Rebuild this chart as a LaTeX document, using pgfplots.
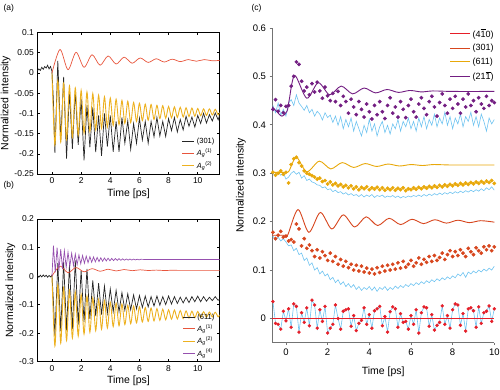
\documentclass[border=0pt]{standalone}
\usepackage{fontspec}
\setmainfont{Liberation Sans}
\usepackage{pgfplots}
\usepackage{pgfplotstable}
\pgfplotsset{compat=1.18}
\definecolor{mred}{RGB}{232,85,60}
\definecolor{myel}{RGB}{237,177,32}
\definecolor{mpur}{RGB}{150,80,175}
\definecolor{cred}{RGB}{230,30,40}
\definecolor{cora}{RGB}{215,70,30}
\definecolor{cyel}{RGB}{232,168,10}
\definecolor{cpur}{RGB}{115,30,130}
\definecolor{cblu}{RGB}{110,195,240}

\pgfplotstableread{
t r o ob y yb p pb
-0.625 0.035 0.178 0.170 0.302 0.300 0.432 0.440
-0.5 -0.010 0.165 0.162 0.296 0.294 0.452 0.425
-0.375 -0.012 0.172 0.168 0.300 0.302 0.428 0.445
-0.25 -0.022 0.180 0.160 0.305 0.296 0.440 0.420
-0.125 0.015 0.168 0.165 0.298 0.300 0.425 0.432
0 -0.005 0.170 0.158 0.302 0.288 0.438 0.418
0.125 0.020 0.160 0.150 0.280 0.292 0.440 0.445
0.25 -0.018 0.163 0.152 0.318 0.300 0.480 0.452
0.375 0.030 0.158 0.140 0.330 0.304 0.500 0.440
0.5 0.025 0.195 0.145 0.333 0.298 0.530 0.462
0.625 -0.028 0.185 0.132 0.322 0.302 0.525 0.445
0.75 0.012 0.150 0.135 0.315 0.290 0.490 0.438
0.875 -0.008 0.165 0.120 0.305 0.295 0.470 0.430
1.0 0.022 0.145 0.125 0.300 0.285 0.478 0.440
1.125 -0.015 0.152 0.110 0.298 0.288 0.462 0.425
1.25 0.038 0.140 0.115 0.295 0.282 0.485 0.432
1.375 0.028 0.128 0.100 0.292 0.280 0.468 0.418
1.5 -0.020 0.142 0.105 0.288 0.276 0.488 0.428
1.625 0.018 0.125 0.092 0.290 0.275 0.470 0.422
1.75 -0.006 0.138 0.098 0.283 0.270 0.455 0.410
1.875 0.025 0.130 0.088 0.285 0.272 0.478 0.425
2.0 -0.030 0.120 0.092 0.278 0.266 0.460 0.415
2.125 -0.020 0.135 0.080 0.282 0.268 0.450 0.420
2.25 -0.012 0.118 0.085 0.276 0.262 0.465 0.405
2.375 0.028 0.128 0.074 0.279 0.265 0.448 0.418
2.5 0.000 0.112 0.080 0.274 0.260 0.469 0.399
2.625 -0.022 0.122 0.070 0.277 0.262 0.440 0.417
2.75 0.015 0.108 0.076 0.272 0.257 0.459 0.392
2.875 0.018 0.118 0.066 0.275 0.260 0.448 0.411
3.0 0.020 0.105 0.072 0.270 0.255 0.424 0.396
3.125 -0.016 0.112 0.064 0.274 0.258 0.453 0.414
3.25 0.006 0.100 0.070 0.268 0.254 0.437 0.387
3.375 -0.025 0.110 0.060 0.272 0.256 0.421 0.407
3.5 -0.010 0.098 0.066 0.266 0.252 0.448 0.392
3.625 -0.004 0.108 0.058 0.271 0.256 0.432 0.377
3.75 0.022 0.096 0.064 0.268 0.251 0.416 0.399
3.875 -0.012 0.104 0.060 0.272 0.255 0.443 0.384
4.0 0.008 0.094 0.066 0.266 0.252 0.427 0.411
4.125 -0.020 0.102 0.058 0.270 0.256 0.412 0.387
4.25 0.016 0.092 0.065 0.267 0.250 0.440 0.402
4.375 0.020 0.105 0.056 0.271 0.254 0.421 0.377
4.5 0.025 0.095 0.064 0.266 0.252 0.448 0.396
4.625 -0.015 0.108 0.060 0.270 0.255 0.427 0.407
4.75 0.004 0.098 0.066 0.265 0.250 0.413 0.384
4.875 -0.028 0.110 0.058 0.269 0.253 0.440 0.399
5.0 0.014 0.100 0.064 0.266 0.251 0.456 0.381
5.125 0.024 0.112 0.060 0.270 0.254 0.424 0.402
5.25 0.020 0.102 0.067 0.265 0.250 0.437 0.392
5.375 -0.018 0.115 0.062 0.269 0.253 0.416 0.411
5.5 0.010 0.104 0.068 0.266 0.249 0.448 0.387
5.625 -0.008 0.118 0.064 0.270 0.252 0.432 0.407
5.75 -0.006 0.106 0.070 0.264 0.250 0.415 0.396
5.875 -0.022 0.112 0.066 0.268 0.253 0.440 0.414
6.0 0.006 0.120 0.072 0.266 0.251 0.453 0.392
6.125 -0.012 0.108 0.068 0.270 0.254 0.427 0.407
6.25 0.018 0.115 0.074 0.267 0.252 0.416 0.387
6.375 -0.030 0.125 0.070 0.271 0.255 0.443 0.414
6.5 0.012 0.112 0.076 0.268 0.252 0.456 0.396
6.625 0.024 0.122 0.072 0.272 0.256 0.434 0.417
6.75 0.022 0.116 0.078 0.269 0.253 0.421 0.392
6.875 -0.016 0.128 0.074 0.273 0.257 0.448 0.411
7.0 0.008 0.118 0.080 0.270 0.254 0.459 0.399
7.125 -0.024 0.130 0.076 0.274 0.258 0.437 0.422
7.25 -0.014 0.120 0.082 0.271 0.255 0.418 0.396
7.375 -0.008 0.126 0.078 0.275 0.259 0.446 0.414
7.5 0.026 0.135 0.084 0.272 0.256 0.464 0.402
7.625 -0.012 0.122 0.080 0.276 0.260 0.440 0.426
7.75 0.006 0.132 0.086 0.273 0.257 0.424 0.399
7.875 -0.020 0.140 0.082 0.277 0.261 0.453 0.417
8.0 0.018 0.128 0.088 0.274 0.258 0.434 0.392
8.125 0.030 0.138 0.084 0.278 0.262 0.459 0.414
8.25 0.028 0.130 0.092 0.275 0.259 0.443 0.402
8.375 -0.014 0.142 0.088 0.279 0.263 0.424 0.422
8.5 0.010 0.135 0.095 0.276 0.260 0.453 0.396
8.625 -0.026 0.128 0.085 0.280 0.264 0.437 0.417
8.75 0.020 0.145 0.096 0.277 0.261 0.464 0.407
8.875 0.022 0.138 0.092 0.281 0.265 0.440 0.426
9.0 0.016 0.132 0.098 0.278 0.262 0.450 0.399
9.125 -0.018 0.146 0.094 0.282 0.266 0.427 0.417
9.25 0.024 0.140 0.100 0.279 0.263 0.456 0.396
9.375 -0.010 0.135 0.096 0.283 0.268 0.443 0.422
9.5 0.012 0.148 0.102 0.280 0.264 0.434 0.407
9.625 0.015 0.142 0.098 0.284 0.270 0.459 0.387
9.75 0.026 0.150 0.104 0.281 0.266 0.440 0.414
9.875 -0.006 0.140 0.100 0.285 0.272 0.450 0.402
10.0 0.020 0.148 0.108 0.279 0.265 0.446 0.411
}\dataC

\pgfplotsset{
 mat/.style={scale only axis, anchor=south west, xmin=-1, xmax=11.5,
  xtick={0,2,4,6,8,10}, xticklabels={0,2,4,6,8,10},
  tick align=inside, major tick length=2.5pt,
  tick style={black, line width=0.5pt}, axis line style={line width=0.5pt},
  ticklabel style={font=\fontsize{8.5}{9.5}\selectfont},
  label style={font=\fontsize{10.5}{12}\selectfont},
  xlabel={Time [ps]}, ylabel={Normalized intensity},
  xlabel style={yshift=2pt}, ylabel style={yshift=-3pt},
  legend style={draw=none, fill=none, font=\fontsize{7.5}{8.5}\selectfont,
   at={(1,0)}, anchor=south east, row sep=0pt},
  legend cell align=left,
  legend image code/.code={\draw[#1] (0pt,0pt) -- (12pt,0pt);}}
}

\begin{document}
\begin{tikzpicture}
\path[use as bounding box] (0,0) rectangle (500pt,389pt);

% ---------------- (a)
\begin{axis}[mat, at={(37.4pt,215pt)}, width=182.2pt, height=141.5pt,
  ymin=-0.25, ymax=0.1, ytick={-0.25,-0.2,-0.15,-0.1,-0.05,0,0.05,0.1},
  yticklabels={-0.25,-0.2,-0.15,-0.1,-0.05,0,0.05,0.1}]
\addplot[black!85, line width=0.7pt] coordinates {
(-1,0.005)(-0.9,0.010)(-0.8,0.006)(-0.7,0.014)(-0.6,0.009)(-0.5,0.016)(-0.4,0.012)(-0.3,0.019)(-0.2,0.010)(-0.1,0.016)(0,0.004)(0.1,-0.07)
(0.2,-0.198)(0.4,0.030)(0.6,-0.165)(0.8,-0.010)(1.0,-0.212)(1.2,-0.045)(1.4,-0.188)(1.6,-0.045)(1.8,-0.178)(2.0,-0.065)
(2.2,-0.216)(2.4,-0.080)(2.6,-0.184)(2.8,-0.085)(3.0,-0.196)(3.2,-0.105)(3.4,-0.205)(3.6,-0.100)(3.8,-0.182)(4.0,-0.105)
(4.2,-0.195)(4.4,-0.120)(4.6,-0.195)(4.8,-0.110)(5.0,-0.174)(5.2,-0.118)(5.4,-0.189)(5.6,-0.125)(5.8,-0.174)(6.0,-0.112)
(6.2,-0.166)(6.4,-0.120)(6.6,-0.174)(6.8,-0.120)(7.0,-0.158)(7.2,-0.110)(7.4,-0.156)(7.6,-0.120)(7.8,-0.157)(8.0,-0.113)
(8.2,-0.143)(8.4,-0.110)(8.6,-0.146)(8.8,-0.115)(9.0,-0.141)(9.2,-0.107)(9.4,-0.132)(9.6,-0.109)(9.8,-0.134)(10.0,-0.105)
(10.2,-0.125)(10.4,-0.100)(10.6,-0.124)(10.8,-0.103)(11.0,-0.119)(11.2,-0.099)(11.4,-0.116)(11.5,-0.105)};
\addlegendentry{(301)}
\addplot[mred, line width=0.7pt, smooth] coordinates {
(0,0)(0.55,0.058)(1.1,0.008)(1.65,0.051)(2.2,0.014)(2.75,0.045)(3.3,0.019)(3.85,0.042)(4.4,0.022)(4.95,0.039)(5.5,0.024)
(6.05,0.037)(6.6,0.026)(7.15,0.035)(7.7,0.027)(8.25,0.034)(8.8,0.028)(9.35,0.033)(9.9,0.029)(10.45,0.033)(11.0,0.030)(11.5,0.031)};
\addlegendentry{\textit{A}\textsubscript{\textit{g}}\textsuperscript{(1)}}
\addplot[myel, line width=0.9pt, smooth] coordinates {
(0,0)(0.2,-0.178)(0.4,-0.019)(0.6,-0.171)(0.8,-0.026)(1.0,-0.165)(1.2,-0.032)(1.4,-0.159)(1.6,-0.037)(1.8,-0.154)(2.0,-0.043)
(2.2,-0.149)(2.4,-0.047)(2.6,-0.145)(2.8,-0.051)(3.0,-0.141)(3.2,-0.055)(3.4,-0.137)(3.6,-0.059)(3.8,-0.134)(4.0,-0.062)
(4.2,-0.130)(4.4,-0.065)(4.6,-0.128)(4.8,-0.068)(5.0,-0.125)(5.2,-0.070)(5.4,-0.123)(5.6,-0.073)(5.8,-0.120)(6.0,-0.075)
(6.2,-0.118)(6.4,-0.077)(6.6,-0.117)(6.8,-0.078)(7.0,-0.115)(7.2,-0.080)(7.4,-0.113)(7.6,-0.081)(7.8,-0.112)(8.0,-0.083)
(8.2,-0.111)(8.4,-0.084)(8.6,-0.110)(8.8,-0.085)(9.0,-0.109)(9.2,-0.086)(9.4,-0.108)(9.6,-0.087)(9.8,-0.107)(10.0,-0.088)
(10.2,-0.106)(10.4,-0.089)(10.6,-0.105)(10.8,-0.089)(11.0,-0.104)(11.2,-0.090)(11.4,-0.104)(11.5,-0.098)};
\addlegendentry{\textit{A}\textsubscript{\textit{g}}\textsuperscript{(2)}}
\end{axis}

% ---------------- (b)
\begin{axis}[mat, at={(37.4pt,27.3pt)}, width=182.2pt, height=142.7pt,
  ymin=-0.3, ymax=0.2, ytick={-0.3,-0.2,-0.1,0,0.1,0.2},
  yticklabels={-0.3,-0.2,-0.1,0,0.1,0.2}]
\addplot[black!85, line width=0.7pt] coordinates {
(-1,0.002)(-0.9,-0.004)(-0.8,0.003)(-0.7,-0.003)(-0.6,0.004)(-0.5,-0.002)(-0.4,0.003)(-0.3,-0.004)(-0.2,0.002)(-0.1,-0.003)(0,0.003)(0.1,-0.09)
(0.2,-0.210)(0.4,0.045)(0.6,-0.193)(0.8,0.050)(1.0,-0.190)(1.2,0.040)(1.4,-0.185)(1.6,0.055)(1.8,-0.170)(2.0,0.020)
(2.2,-0.160)(2.4,0.025)(2.6,-0.150)(2.8,-0.015)(3.0,-0.140)(3.2,-0.025)(3.4,-0.135)(3.6,-0.035)(3.8,-0.130)(4.0,-0.045)
(4.2,-0.125)(4.4,-0.050)(4.6,-0.125)(4.8,-0.058)(5.0,-0.120)(5.2,-0.062)(5.4,-0.118)(5.6,-0.066)(5.8,-0.115)(6.0,-0.068)
(6.2,-0.110)(6.4,-0.070)(6.6,-0.108)(6.8,-0.072)(7.0,-0.105)(7.2,-0.070)(7.4,-0.102)(7.6,-0.072)(7.8,-0.100)(8.0,-0.070)
(8.2,-0.098)(8.4,-0.072)(8.6,-0.096)(8.8,-0.074)(9.0,-0.094)(9.2,-0.074)(9.4,-0.093)(9.6,-0.072)(9.8,-0.090)(10.0,-0.070)
(10.2,-0.090)(10.4,-0.072)(10.6,-0.088)(10.8,-0.074)(11.0,-0.086)(11.2,-0.072)(11.4,-0.085)(11.5,-0.080)};
\addlegendentry{(611)}
\addplot[mred, line width=0.7pt, smooth] coordinates {
(0,0)(0.55,0.035)(1.1,0.012)(1.65,0.030)(2.2,0.015)(2.75,0.026)(3.3,0.017)(3.85,0.024)(4.4,0.018)(4.95,0.023)(5.5,0.019)
(6.05,0.022)(6.6,0.0195)(7.15,0.021)(7.7,0.0195)(8.25,0.0205)(8.8,0.02)(11.5,0.02)};
\addlegendentry{\textit{A}\textsubscript{\textit{g}}\textsuperscript{(1)}}
\addplot[myel, line width=0.9pt, smooth] coordinates {
(0,0)(0.2,-0.245)(0.4,-0.030)(0.6,-0.235)(0.8,-0.040)(1.0,-0.226)(1.2,-0.049)(1.4,-0.217)(1.6,-0.056)(1.8,-0.210)(2.0,-0.064)
(2.2,-0.203)(2.4,-0.070)(2.6,-0.197)(2.8,-0.076)(3.0,-0.191)(3.2,-0.081)(3.4,-0.186)(3.6,-0.086)(3.8,-0.182)(4.0,-0.091)
(4.2,-0.177)(4.4,-0.095)(4.6,-0.174)(4.8,-0.098)(5.0,-0.170)(5.2,-0.102)(5.4,-0.167)(5.6,-0.105)(5.8,-0.164)(6.0,-0.107)
(6.2,-0.161)(6.4,-0.110)(6.6,-0.159)(6.8,-0.112)(7.0,-0.157)(7.2,-0.114)(7.4,-0.155)(7.6,-0.116)(7.8,-0.153)(8.0,-0.118)
(8.2,-0.151)(8.4,-0.119)(8.6,-0.150)(8.8,-0.121)(9.0,-0.149)(9.2,-0.122)(9.4,-0.147)(9.6,-0.123)(9.8,-0.146)(10.0,-0.124)
(10.2,-0.145)(10.4,-0.125)(10.6,-0.144)(10.8,-0.126)(11.0,-0.143)(11.2,-0.127)(11.4,-0.143)(11.5,-0.136)};
\addlegendentry{\textit{A}\textsubscript{\textit{g}}\textsuperscript{(2)}}
\addplot[mpur, line width=0.7pt] coordinates {
(0,0)(0.1,0.107)(0.225,0.013)(0.35,0.100)(0.475,0.019)(0.6,0.094)(0.725,0.025)(0.85,0.089)(0.975,0.030)(1.1,0.084)(1.225,0.034)
(1.35,0.080)(1.475,0.037)(1.6,0.077)(1.725,0.040)(1.85,0.074)(1.975,0.043)(2.1,0.072)(2.225,0.045)(2.35,0.070)(2.475,0.047)
(2.6,0.068)(2.725,0.0485)(2.85,0.067)(2.975,0.050)(3.1,0.0655)(3.225,0.051)(3.35,0.064)(3.475,0.052)(3.6,0.0635)(3.725,0.053)
(3.85,0.0627)(3.975,0.0537)(4.1,0.062)(4.225,0.0543)(4.35,0.0614)(4.475,0.0548)(4.6,0.0609)(4.725,0.0553)(4.85,0.0605)(4.975,0.0557)
(5.1,0.060)(5.225,0.056)(5.35,0.0598)(5.475,0.0563)(5.6,0.0594)(5.725,0.0566)(5.85,0.0591)(5.975,0.0569)(6.1,0.0588)(6.5,0.058)(11.5,0.058)};
\addlegendentry{\textit{A}\textsubscript{\textit{g}}\textsuperscript{(4)}}
\end{axis}

% ---------------- (c)
\begin{axis}[scale only axis, anchor=south west, at={(272pt,46.3pt)}, width=222.3pt, height=314.7pt,
  xmin=-0.67, xmax=10, ymin=-0.05, ymax=0.6,
  axis x line*=bottom, axis y line*=left,
  axis line style={black!55, line width=1pt, -},
  tick align=outside, major tick length=2.5pt, tick style={black!55, line width=0.8pt},
  xtick={0,2,4,6,8,10}, xticklabels={0,2,4,6,8,10},
  ytick={0,0.1,0.2,0.3,0.4,0.5,0.6}, yticklabels={0,0.1,0.2,0.3,0.4,0.5,0.6},
  ticklabel style={font=\fontsize{9.5}{11}\selectfont},
  label style={font=\fontsize{10.5}{12}\selectfont},
  xlabel={Time [ps]}, ylabel={Normalized intensity},
  xlabel style={yshift=-5pt}, ylabel style={yshift=0pt},
  legend style={draw=none, fill=none, font=\fontsize{9}{10}\selectfont,
   at={(1.02,1.01)}, anchor=north east, row sep=1.5pt},
  legend cell align=left,
  legend image code/.code={\draw[#1] (0pt,0pt) -- (20pt,0pt);}]
% light blue raw traces
\addplot[cblu, line width=0.6pt, forget plot] table[x=t,y=pb]{\dataC};
\addplot[cblu, line width=0.6pt, forget plot] table[x=t,y=yb]{\dataC};
\addplot[cblu, line width=0.6pt, forget plot] table[x=t,y=ob]{\dataC};
\addplot[cblu, line width=0.6pt, forget plot] table[x=t,y=r]{\dataC};
% model line at zero
\addplot[cred, line width=0.8pt, forget plot] coordinates {(-0.67,0)(10,0)};
% dots
\addplot[only marks, mark=*, mark size=1.5pt, cred, forget plot] table[x=t,y=r]{\dataC};
\addplot[only marks, mark=*, mark size=1.7pt, cora, forget plot] table[x=t,y=o]{\dataC};
\addplot[only marks, mark=*, mark size=1.7pt, cyel, forget plot] table[x=t,y=y]{\dataC};
\addplot[only marks, mark=*, mark size=1.7pt, cpur, forget plot] table[x=t,y=p]{\dataC};
% model lines
\addplot[cora, line width=0.9pt, smooth, forget plot] coordinates {
(-0.67,0.172)(0,0.172)(0.1,0.174)(0.58,0.225)(1.1,0.178)(1.65,0.219)(2.2,0.185)(2.75,0.214)(3.3,0.189)(3.85,0.210)(4.4,0.192)
(4.95,0.207)(5.5,0.194)(6.05,0.205)(6.6,0.196)(7.15,0.204)(7.7,0.197)(8.25,0.203)(8.8,0.198)(9.35,0.202)(10,0.199)};
\addplot[cyel, line width=0.9pt, smooth, forget plot] coordinates {
(-0.67,0.302)(0,0.302)(0.15,0.305)(0.5,0.333)(1.0,0.303)(1.6,0.325)(2.15,0.309)(2.7,0.322)(3.25,0.312)(3.8,0.320)(4.35,0.314)
(4.9,0.319)(5.45,0.315)(6.0,0.318)(6.55,0.316)(7.1,0.318)(8,0.317)(10,0.317)};
\addplot[cpur, line width=0.9pt, smooth, forget plot] coordinates {
(-0.67,0.437)(-0.45,0.428)(-0.2,0.418)(0.05,0.428)(0.15,0.45)(0.42,0.502)(1.0,0.455)(1.55,0.487)(2.1,0.462)(2.65,0.480)(3.2,0.464)
(3.75,0.476)(4.3,0.466)(4.85,0.473)(5.4,0.467)(5.95,0.471)(6.5,0.468)(7.05,0.470)(8,0.469)(10,0.469)};
\addlegendimage{cred, line width=1pt}
\addlegendentry{(4$\overline{\mbox{1}}$0)}
\addlegendimage{cora, line width=1pt}
\addlegendentry{(301)}
\addlegendimage{cyel, line width=1pt}
\addlegendentry{(611)}
\addlegendimage{cpur, line width=1pt}
\addlegendentry{(21$\overline{\mbox{1}}$)}
\end{axis}

\node[anchor=west, font=\fontsize{8.5}{10}\selectfont] at (0pt,381pt) {(a)};
\node[anchor=west, font=\fontsize{8.5}{10}\selectfont] at (0pt,204pt) {(b)};
\node[anchor=west, font=\fontsize{8.5}{10}\selectfont] at (248pt,381pt) {(c)};
\end{tikzpicture}
\end{document}
